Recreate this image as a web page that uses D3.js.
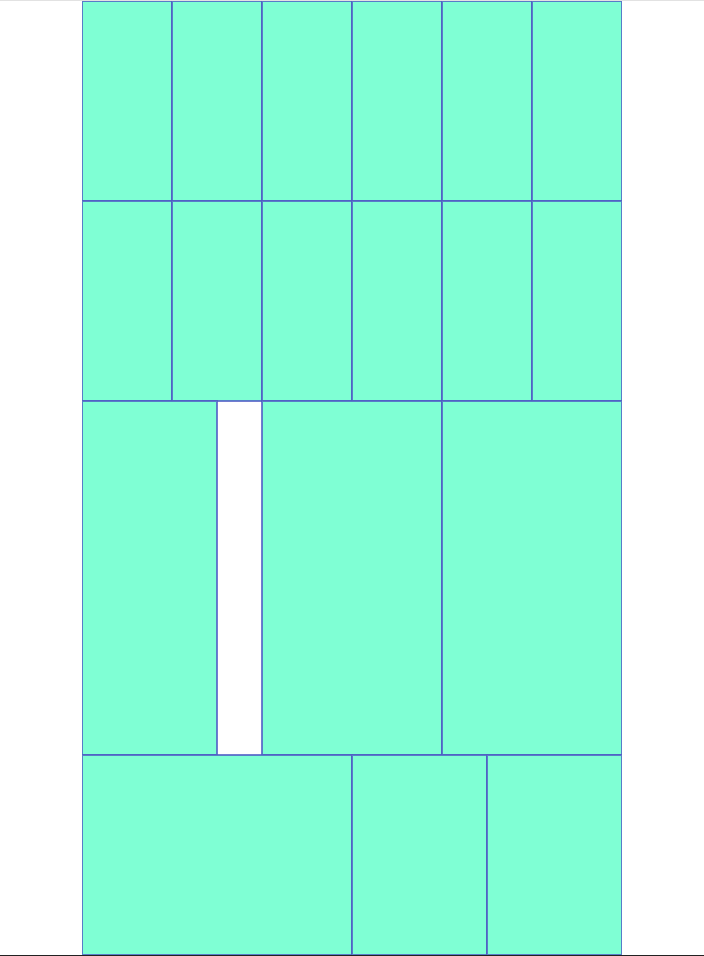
<!DOCTYPE html>
<html>
<head>
<meta charset="utf-8">
<script src="https://cdn.jsdelivr.net/npm/d3@7"></script>
<style>
  html, body { margin: 0; padding: 0; background: #fff; }
  #wrap { width: 704px; height: 954px; border-top: 1px solid #e2e2e2; border-bottom: 1px solid #222; }
  svg { display: block; margin: 0 auto; overflow: hidden; }
</style>
</head>
<body>
<div id="wrap"></div>
<script>
// Row weights (relative heights)
const rows = ["A", "B", "C", "D"];
const rowHeights = [4, 4, 7.08, 4];
// Cell widths per row (relative units, each row sums to 12)
const rowA = [2, 2, 2, 2, 2, 2];
const rowB = [2, 2, 2, 2, 2, 2];
const rowC = [3, 1, 4, 4];
const rowD = [6, 3, 3];
// Which cells are empty (drawn white)
const emptyC = [false, true, false, false];
const emptyA = rowA.map(() => false);
const emptyB = rowB.map(() => false);
const emptyD = rowD.map(() => false);

const cellWidths = [rowA, rowB, rowC, rowD];
const cellEmpty = [emptyA, emptyB, emptyC, emptyD];

const W = 540, H = 954;
const totalW = d3.sum(rowA);
const totalH = d3.sum(rowHeights);
const x = d3.scaleLinear().domain([0, totalW]).range([0, W]);
const y = d3.scaleLinear().domain([0, totalH]).range([0, H]);

const cells = [];
let y0 = 0;
rows.forEach((r, i) => {
  let x0 = 0;
  cellWidths[i].forEach((w, j) => {
    cells.push({ row: r, x0, x1: x0 + w, y0, y1: y0 + rowHeights[i], empty: cellEmpty[i][j] });
    x0 += w;
  });
  y0 += rowHeights[i];
});

const svg = d3.select("#wrap").append("svg").attr("width", W).attr("height", H);

const filled = cells.filter(d => !d.empty);
const empty = cells.filter(d => d.empty);

svg.selectAll("rect.cell").data(filled).join("rect")
  .attr("class", "cell")
  .attr("x", d => x(d.x0)).attr("y", d => y(d.y0))
  .attr("width", d => x(d.x1) - x(d.x0)).attr("height", d => y(d.y1) - y(d.y0))
  .attr("fill", "aquamarine")
  .attr("stroke", "#4f5bc4")
  .attr("stroke-opacity", 0.8)
  .attr("stroke-width", 2);

svg.selectAll("rect.empty").data(empty).join("rect")
  .attr("class", "empty")
  .attr("x", d => x(d.x0) + 1).attr("y", d => y(d.y0) + 1)
  .attr("width", d => x(d.x1) - x(d.x0) - 2).attr("height", d => y(d.y1) - y(d.y0) - 2)
  .attr("fill", "#fff")
  .attr("stroke", "none");
</script>
</body>
</html>
